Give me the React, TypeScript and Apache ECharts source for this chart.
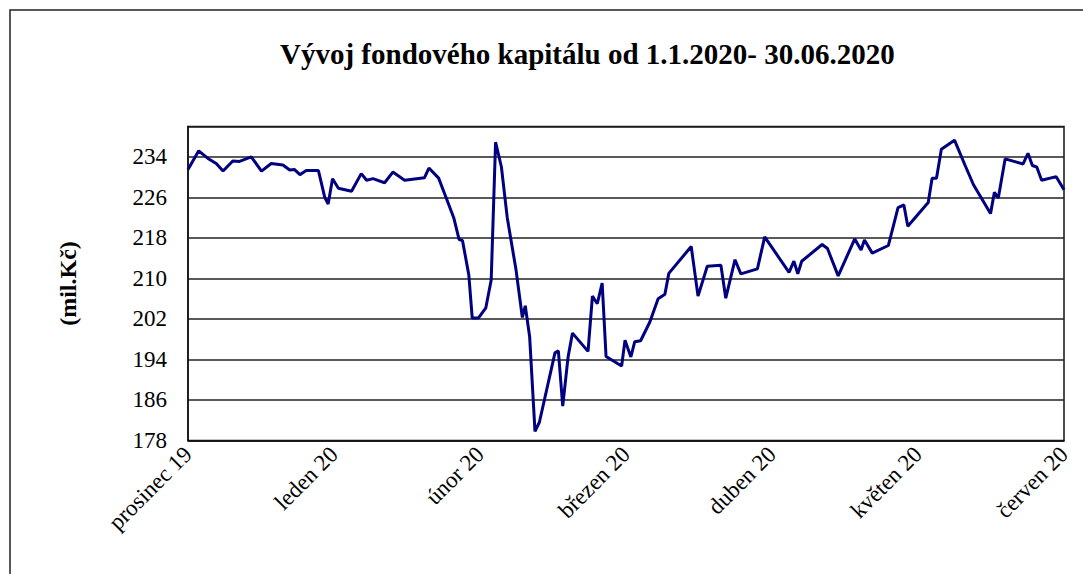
import React, { useEffect, useRef } from "react";
import * as echarts from "echarts";

// x position in days from "prosinec 19" (each month label = 30 days)
const days = [
  0, 2.2, 4.1, 5.8, 7.2, 9.2, 10.6, 13.0, 15.1, 17.1, 19.5, 20.9, 21.9, 23.0, 24.3, 26.8,
  28.1, 28.8, 29.7, 30.9, 33.6, 35.6, 36.7, 38.0, 40.4, 42.1, 44.5, 48.6, 49.5, 51.5, 53.1,
  54.6, 55.7, 56.4, 57.7, 58.4, 59.7, 61.2, 62.3, 63.2, 64.4, 65.6, 67.4, 68.7, 69.3, 70.2,
  71.3, 72.2, 75.4, 76.1, 77.0, 78.1, 79.0, 82.2, 83.1, 84.1, 85.1, 85.9, 89.1, 89.8, 91.0,
  91.8, 93.0, 94.9, 96.6, 98.0, 98.8, 103.4, 104.8, 106.7, 109.5, 110.5, 112.4, 113.6, 117.0,
  118.5, 123.5, 124.5, 125.3, 126.1, 130.3, 131.4, 133.6, 137.0, 138.3, 139.0, 140.6, 143.9,
  145.9, 147.1, 147.9, 152.1, 152.9, 153.8, 154.8, 157.5, 159.6, 161.4, 164.9, 165.7, 166.5,
  167.9, 171.6, 172.6, 173.5, 174.4, 175.4, 178.4, 180,
];

const capital = [
  231.5, 235.2, 233.7, 232.7, 231.2, 233.2, 233.1, 234.0, 231.2, 232.7, 232.4, 231.4, 231.5,
  230.5, 231.3, 231.3, 226.0, 224.7, 229.7, 227.8, 227.2, 230.7, 229.4, 229.7, 228.9, 231.0,
  229.4, 229.9, 231.8, 229.8, 225.8, 222.0, 217.7, 217.5, 210.7, 202.2, 202.2, 204.2, 209.7,
  236.9, 232.0, 222.0, 211.7, 202.3, 204.6, 198.5, 179.8, 181.6, 195.3, 195.7, 184.8, 194.5,
  199.2, 195.6, 206.5, 205.0, 209.1, 194.6, 192.7, 197.8, 194.5, 197.5, 197.7, 201.4, 206.0,
  206.9, 211.0, 216.3, 206.5, 212.4, 212.6, 206.1, 213.7, 210.9, 211.9, 218.2, 211.2, 213.4,
  210.9, 213.4, 216.7, 215.9, 210.5, 217.8, 215.6, 217.6, 215.0, 216.5, 224.0, 224.5, 220.3,
  225.0, 229.8, 229.8, 235.5, 237.3, 232.5, 228.5, 222.8, 227.0, 225.9, 233.6, 232.6, 234.7,
  232.3, 232.0, 229.4, 230.1, 227.5,
];

const monthLabels = [
  "prosinec 19",
  "leden 20",
  "únor 20",
  "březen 20",
  "duben 20",
  "květen 20",
  "červen 20",
];

const yTicks = [178, 186, 194, 202, 210, 218, 226, 234];

const titleText = "Vývoj fondového kapitálu od 1.1.2020- 30.06.2020";
const yName = "(mil.Kč)";

const FONT = '"Liberation Serif", "Times New Roman", serif';

export default function App() {
  const ref = useRef<HTMLDivElement>(null);

  useEffect(() => {
    document.body.style.margin = "0";
    if (!ref.current) return;
    const chart = echarts.init(ref.current, null, { renderer: "svg" });
    const data = days.map((d, i) => [d, capital[i]]);
    chart.setOption({
      animation: false,
      backgroundColor: "#ffffff",
      textStyle: { fontFamily: FONT },
      title: {
        text: titleText,
        left: 275,
        top: 34,
        textStyle: {
          fontFamily: FONT,
          fontSize: 29,
          fontWeight: "bold",
          color: "#000",
        },
      },
      graphic: [
        {
          type: "rect",
          shape: { x: 10, y: 10, width: 1200, height: 700 },
          style: { fill: "none", stroke: "#222", lineWidth: 1.5 },
          silent: true,
        },
      ],
      grid: {
        left: 188,
        top: 126.5,
        width: 876,
        height: 314,
        show: true,
        borderColor: "#111",
        borderWidth: 1.5,
        backgroundColor: "transparent",
      },
      xAxis: {
        type: "value",
        min: 0,
        max: 180,
        interval: 30,
        axisLine: { show: true, lineStyle: { color: "#111", width: 1.5 } },
        axisTick: { show: false },
        splitLine: { show: false },
        axisLabel: {
          rotate: 45,
          margin: 10,
          fontFamily: FONT,
          fontSize: 23,
          color: "#000",
          formatter: (v: number) => monthLabels[Math.round(v / 30)] ?? "",
        },
      },
      yAxis: {
        type: "value",
        min: 178,
        max: 240,
        interval: 8,
        name: yName,
        nameLocation: "middle",
        nameRotate: 90,
        nameGap: 108,
        nameTextStyle: {
          fontFamily: FONT,
          fontSize: 24,
          fontWeight: "bold",
          color: "#000",
        },
        axisLine: { show: true, lineStyle: { color: "#111", width: 1.5 } },
        axisTick: { show: false },
        splitLine: { show: true, lineStyle: { color: "#222", width: 1.5 } },
        axisLabel: {
          margin: 21,
          fontFamily: FONT,
          fontSize: 23,
          color: "#000",
          showMaxLabel: false,
          formatter: (v: number) => (yTicks.includes(v) ? String(v) : ""),
        },
      },
      series: [
        {
          type: "line",
          data,
          showSymbol: false,
          symbol: "none",
          lineStyle: { color: "#000080", width: 3 },
          emphasis: { disabled: true },
        },
      ],
    });
    return () => chart.dispose();
  }, []);

  return <div ref={ref} style={{ width: 1083, height: 574 }} />;
}
